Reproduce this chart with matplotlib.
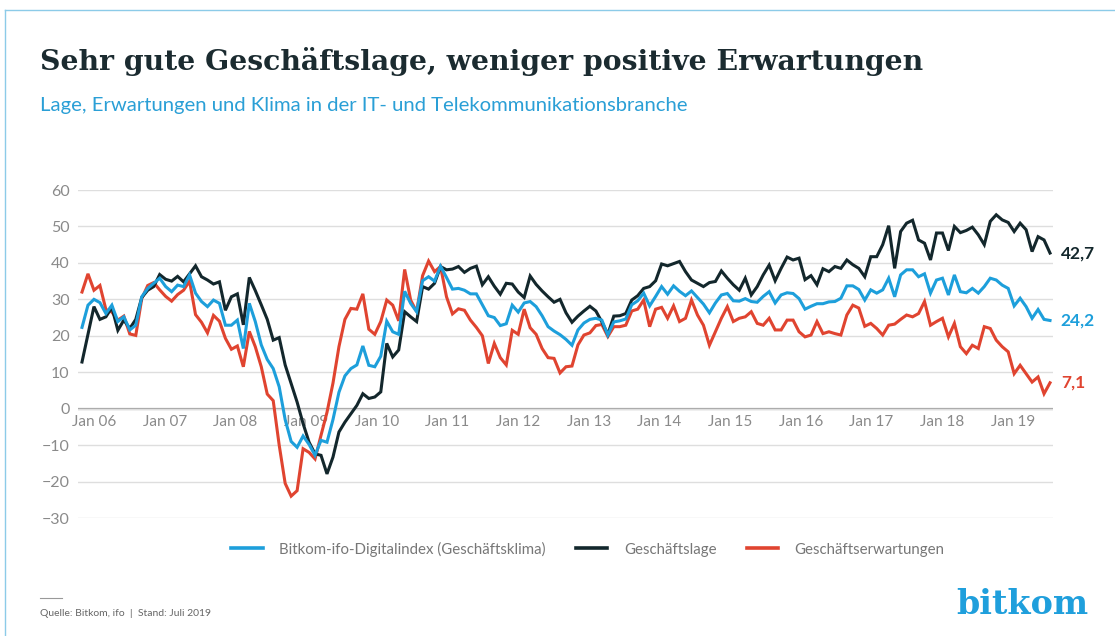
import numpy as np
import matplotlib.pyplot as plt
from matplotlib.lines import Line2D

# monthly values
klima = [22.3, 28.4, 30, 29.1, 26.1, 28.4, 23.9, 25.2, 21.6, 22.9,
         30.7, 33, 34.4, 35.8, 33.5, 32.1, 33.9, 33.5, 36.7, 31.7,
         29.4, 28, 29.8, 28.9, 22.9, 22.9, 24.3, 16.5, 28.9, 23.9,
         17.5, 13.5, 11, 6, -3, -9, -10.6, -7.5, -9.8, -12.8,
         -8.7, -9.2, -3, 4.5, 9, 11, 12, 17.2, 11.9, 11.5,
         14.4, 24, 21.1, 20.4, 32.2, 28.9, 26.6, 35.1, 36.2, 35,
         39.1, 36, 32.8, 33, 32.5, 31.5, 31.5, 28.5, 25.5, 25,
         22.8, 23.3, 28.4, 26.5, 29, 29.4, 28, 25.5, 22.5, 21.3,
         20.3, 19, 17.4, 21.6, 23.5, 24.5, 24.8, 24.3, 20.2, 23.8,
         24.1, 24.6, 28.5, 29.6, 31.7, 28.2, 30.8, 33.5, 31.4, 33.7,
         32.2, 31, 32.3, 30.5, 28.7, 26.3, 29, 31.2, 31.6, 29.6,
         29.5, 30.2, 29.4, 29.2, 30.8, 32.1, 29, 31.2, 31.8, 31.6,
         30.2, 27.3, 28.1, 28.8, 28.8, 29.3, 29.4, 30.3, 33.7, 33.7,
         32.7, 29.8, 32.6, 31.7, 32.6, 35.8, 30.7, 36.7, 38.1, 38.1,
         36.2, 37, 31.7, 35.3, 35.8, 31.2, 36.7, 32.1, 31.8, 33,
         31.7, 33.5, 35.8, 35.3, 33.9, 33, 28.2, 30.3, 28, 24.8,
         27.2, 24.5, 24.2]

lage = [12.8, 20.4, 28, 24.5, 25.2, 27.8, 21.5, 24.3, 22, 24.5,
        30.5, 32.5, 33.5, 36.8, 35.5, 35, 36.3, 34.8, 37, 39.2,
        36.2, 35.3, 34.2, 34.8, 27, 30.7, 31.5, 23, 36, 32.4,
        28.5, 24.5, 18.8, 19.5, 12, 6.9, 1.8, -4.1, -9.2, -12.4,
        -12.8, -17.9, -13.3, -6.4, -3.7, -1.4, 0.9, 4.1, 2.8, 3.2,
        4.6, 17.9, 14.2, 16.1, 26.6, 25.2, 23.9, 33.5, 32.8, 34.4,
        39, 38.1, 38.3, 39, 37.4, 38.5, 39.1, 34, 36.2, 33.6,
        31.4, 34.4, 34.2, 32, 30.5, 36.4, 34.1, 32.3, 30.7, 29.2,
        30, 26.3, 23.7, 25.4, 26.8, 28.1, 26.8, 23.8, 20.4, 25.4,
        25.5, 26.1, 29.8, 31, 33, 33.5, 35.1, 39.7, 39.2, 39.8,
        40.4, 37.6, 35.3, 34.4, 33.5, 34.6, 34.9, 37.8, 35.8, 34,
        32.5, 35.8, 31.2, 33.5, 36.7, 39.4, 35.1, 38.5, 41.6, 40.8,
        41.3, 35.4, 36.5, 34, 38.4, 37.6, 39, 38.5, 40.8, 39.5,
        38.5, 36.2, 41.7, 41.7, 45, 50.2, 38.5, 48.6, 50.9, 51.7,
        46.3, 45.4, 40.8, 48.2, 48.2, 43.4, 50, 48.3, 48.9, 49.8,
        47.7, 45, 51.4, 53.2, 51.8, 51.1, 48.6, 50.9, 49.1, 43.1,
        47.2, 46.3, 42.7]

erwartungen = [32, 37, 32.5, 33.8, 27.2, 26.5, 24.3, 25.4, 20.5, 20.1,
               30.2, 33.8, 34.6, 32.6, 30.8, 29.5, 31.3, 32.5, 35, 25.8,
               23.7, 20.8, 25.6, 24, 19.3, 16.3, 17.2, 11.5, 21.2, 17,
               11.5, 4, 2.2, -10, -20.5, -24, -22.5, -11, -12, -13.8,
               -7.3, -1, 7, 17, 24.5, 27.5, 27.3, 31.5, 21.8, 20.4,
               23.9, 29.8, 28.4, 24.1, 38.2, 29.8, 26.6, 36.5, 40.5, 37.6,
               39, 30.7, 26, 27.4, 27, 24.3, 22.3, 20, 12.4, 17.9,
               14, 12, 21.5, 20.4, 27.3, 22.2, 20.4, 16.5, 14, 13.8,
               9.8, 11.5, 11.7, 17.5, 20.2, 20.8, 22.8, 23.1, 19.8, 22.5,
               22.5, 22.9, 26.8, 27.3, 29.8, 22.5, 27.3, 27.8, 24.8, 28.2,
               23.9, 24.8, 29.8, 25.7, 22.9, 17.4, 21.1, 24.8, 28, 23.9,
               24.8, 25.2, 26.6, 23.4, 22.9, 24.8, 21.6, 21.6, 24.3, 24.3,
               21.1, 19.7, 20.2, 23.9, 20.6, 21.1, 20.6, 20.2, 25.7, 28.4,
               27.6, 22.6, 23.4, 22, 20.2, 22.9, 23.2, 24.5, 25.7, 25.2,
               26.1, 29.4, 22.9, 23.9, 24.8, 19.7, 23.4, 17, 15.1, 17.4,
               16.5, 22.5, 22, 18.8, 17, 15.6, 9.6, 11.9, 9.6, 7.3,
               8.7, 4.1, 7.1]

jahre = ["Jan 06", "Jan 07", "Jan 08", "Jan 09", "Jan 10", "Jan 11", "Jan 12",
         "Jan 13", "Jan 14", "Jan 15", "Jan 16", "Jan 17", "Jan 18", "Jan 19"]

labels = ["Bitkom-ifo-Digitalindex (Geschäftsklima)", "Geschäftslage",
          "Geschäftserwartungen"]

BLUE = "#1d9fdb"
DARK = "#13272c"
RED = "#e04430"
GREY = "#8a8a8a"

plt.rcParams["font.family"] = ["Lato", "DejaVu Sans"]

W, H = 1115, 636
fig = plt.figure(figsize=(W / 100, H / 100), dpi=100)

# frame lines top/left
fig.add_artist(Line2D([5 / W, 1], [1 - 10 / H, 1 - 10 / H], color="#8ccbe8", lw=1))
fig.add_artist(Line2D([5 / W, 5 / W], [0, 1 - 10 / H], color="#8ccbe8", lw=1))

fig.text(40 / W, 1 - 62 / H, "Sehr gute Geschäftslage, weniger positive Erwartungen",
         family="DejaVu Serif", weight="bold", fontsize=20.3, color="#1b2b30",
         va="center")
fig.text(40 / W, 1 - 106 / H,
         "Lage, Erwartungen und Klima in der IT- und Telekommunikationsbranche",
         fontsize=14.6, color="#2a9fd6", va="center")

ax = fig.add_axes([78 / W, (H - 518) / H, (1053 - 78) / W, (518 - 190) / H])
x = np.arange(len(klima))
ax.set_xlim(-0.67, len(klima) - 0.5)
ax.set_ylim(-30, 60)
ax.set_yticks(range(-30, 61, 10))
ax.set_xticks([])
ax.grid(axis="y", color="#dedede", lw=1)
ax.axhline(0, color="#a0a0a0", lw=1.6, zorder=1)
for s in ax.spines.values():
    s.set_visible(False)
ax.tick_params(axis="y", length=0, pad=6, labelsize=11.5, labelcolor=GREY)

tick_pos = np.linspace(2, 155.8, len(jahre))
for p, t in zip(tick_pos, jahre):
    ax.text(p, -3.6, t, ha="center", va="center", fontsize=11, color=GREY, zorder=1)

ax.plot(x, erwartungen, color=RED, lw=2.2, zorder=3, solid_joinstyle="miter")
ax.plot(x, lage, color=DARK, lw=2.2, zorder=3, solid_joinstyle="miter")
ax.plot(x, klima, color=BLUE, lw=2.2, zorder=3, solid_joinstyle="miter")

for series, col in [(lage, DARK), (klima, BLUE), (erwartungen, RED)]:
    v = series[-1]
    ax.text(len(series) + 0.8, v, f"{v:.1f}".replace(".", ","), color=col,
            fontsize=12.5, weight="bold", va="center", ha="left", clip_on=False)

handles = [Line2D([], [], color=c, lw=2.6) for c in (BLUE, DARK, RED)]
fig.legend(handles, labels, loc="center", bbox_to_anchor=(588 / W, 1 - 549 / H),
           ncol=3, frameon=False, fontsize=10.8, labelcolor="#777777",
           handlelength=2.1, handletextpad=1.1, columnspacing=2.0)

fig.add_artist(Line2D([40 / W, 62 / W], [1 - 598 / H, 1 - 598 / H], color="#999999", lw=0.8))
fig.text(40 / W, 1 - 613 / H, "Quelle: Bitkom, ifo  |  Stand: Juli 2019",
         fontsize=7.5, color="#666666", va="center")
fig.text(1088 / W, 1 - 604 / H, "bitkom", family="DejaVu Serif", weight="bold",
         fontsize=24, color="#1f9fdc", ha="right", va="center")

fig.savefig("out.png", dpi=100)
